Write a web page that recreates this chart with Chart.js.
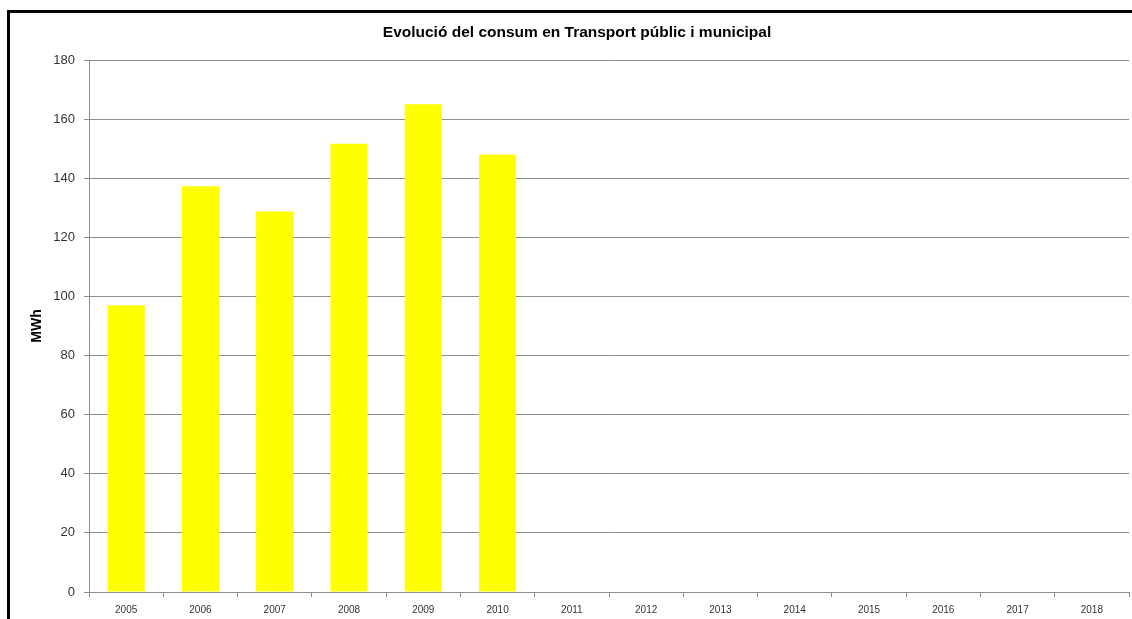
<!DOCTYPE html>
<html>
<head>
<meta charset="utf-8">
<script src="https://cdn.jsdelivr.net/npm/chart.js@4"></script>
<style>
  html, body { margin: 0; padding: 0; background: #fff; }
  #wrap { position: relative; width: 1132px; height: 619px; }
  #frame { position: absolute; left: 7px; top: 10px; right: -10px; bottom: -10px; border-left: 3px solid #000; border-top: 3px solid #000; pointer-events: none; }
  canvas { position: absolute; left: 0; top: 0; }
</style>
</head>
<body>
<div id="wrap">
  <canvas id="c" width="1132" height="619"></canvas>
  <div id="frame"></div>
</div>
<script>
const chartTitle = "Evolució del consum en Transport públic i municipal";
const yAxisTitle = "MWh";
const years = ["2005","2006","2007","2008","2009","2010","2011","2012","2013","2014","2015","2016","2017","2018"];
const consum = [97, 137.3, 128.7, 151.7, 165, 148, null, null, null, null, null, null, null, null];
const yMin = 0, yMax = 180, yStep = 20;

const FONT = 'Liberation Sans, Arial, sans-serif';

new Chart(document.getElementById('c'), {
  type: 'bar',
  data: {
    labels: years,
    datasets: [{
      label: yAxisTitle,
      data: consum,
      backgroundColor: '#ffff00',
      borderWidth: 0,
      barPercentage: 0.5,
      categoryPercentage: 1.0
    }]
  },
  options: {
    responsive: false,
    animation: false,
    layout: { padding: { left: 25, right: 3, top: 0, bottom: 0 } },
    plugins: {
      legend: { display: false },
      tooltip: { enabled: false },
      title: {
        display: true,
        text: chartTitle,
        color: '#000',
        font: { family: FONT, size: 15.5, weight: 'bold' },
        padding: { top: 23, bottom: 18.4 }
      }
    },
    scales: {
      x: {
        grid: { display: true, offset: true, drawOnChartArea: false, color: '#8c8c8c', tickLength: 5 },
        border: { color: '#8c8c8c', width: 1 },
        ticks: { color: '#333', font: { family: FONT, size: 10 }, padding: 7, maxRotation: 0, autoSkip: false },
        afterFit: (s) => { s.height = 27; }
      },
      y: {
        min: yMin, max: yMax,
        grid: { color: '#8c8c8c', tickLength: 5 },
        border: { color: '#8c8c8c', width: 1 },
        ticks: { stepSize: yStep, color: '#333', font: { family: FONT, size: 13 }, padding: 9 },
        title: { display: true, text: yAxisTitle, color: '#000', font: { family: FONT, size: 14, weight: 'bold' }, padding: { top: 4, bottom: 0 } },
        afterFit: (s) => { s.width = 64; }
      }
    }
  }
});
</script>
</body>
</html>
